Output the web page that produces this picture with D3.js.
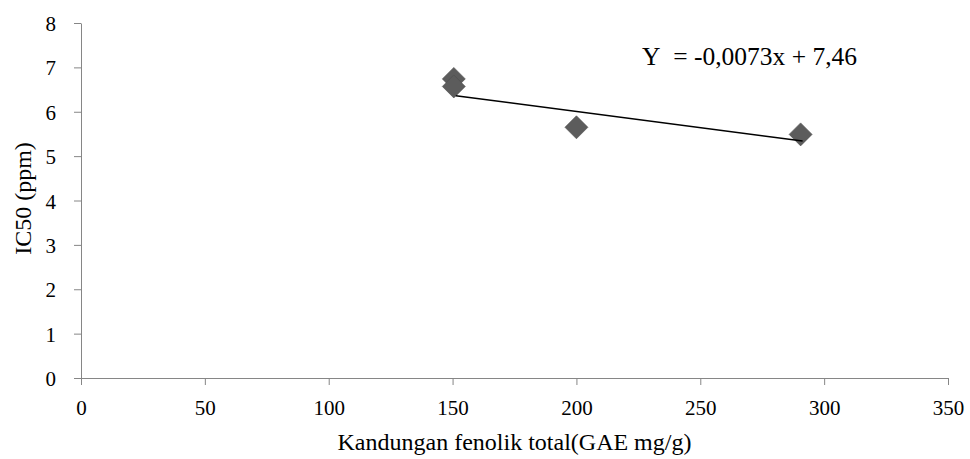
<!DOCTYPE html>
<html>
<head>
<meta charset="utf-8">
<script src="https://cdn.jsdelivr.net/npm/d3@7"></script>
<style>
  body { margin: 0; background: #fff; }
</style>
</head>
<body>
<div id="chart"></div>
<script>
// data points (x = fenolik total, y = IC50)
const xValues = [150.5, 150.5, 200, 290.5];
const yValues = [6.74, 6.57, 5.65, 5.49];

// trendline from the equation shown on the chart
const trendSlope = -0.0073;
const trendIntercept = 7.46;
const trendLabel = 'Y\u00a0 = -0,0073x + 7,46';

const xTicks = [0, 50, 100, 150, 200, 250, 300, 350];
const yTicks = [0, 1, 2, 3, 4, 5, 6, 7, 8];

const width = 970, height = 459;
const margin = { top: 23, right: 22, bottom: 81, left: 81 };
const font = '"Liberation Serif"';

const svg = d3.select('#chart').append('svg')
  .attr('width', width)
  .attr('height', height);

const x = d3.scaleLinear().domain([0, 350]).range([margin.left, width - margin.right]);
const y = d3.scaleLinear().domain([0, 8]).range([height - margin.bottom, margin.top]);

const axisColor = '#868686';

// x axis
const gx = svg.append('g')
  .attr('transform', `translate(0,${y(0)})`)
  .call(d3.axisBottom(x).tickValues(xTicks).tickSize(7).tickSizeOuter(0));
gx.attr('font-family', null).attr('font-size', null);
gx.select('.domain').attr('stroke', axisColor);
gx.selectAll('.tick line').attr('stroke', axisColor);
gx.selectAll('.tick text')
  .attr('y', 37).attr('dy', 0)
  .style('font-family', font).style('font-size', '21px').style('fill', '#000');

// y axis
const gy = svg.append('g')
  .attr('transform', `translate(${x(0)},0)`)
  .call(d3.axisLeft(y).tickValues(yTicks).tickSize(7).tickSizeOuter(0));
gy.attr('font-family', null).attr('font-size', null);
gy.select('.domain').attr('stroke', axisColor);
gy.selectAll('.tick line').attr('stroke', axisColor);
gy.selectAll('.tick text')
  .attr('x', -25).attr('dy', '0.36em')
  .style('font-family', font).style('font-size', '21px').style('fill', '#000');

// axis titles
svg.append('text')
  .attr('x', (x(0) + x(350)) / 2)
  .attr('y', 450)
  .attr('text-anchor', 'middle')
  .style('font-family', font)
  .style('font-size', '24px')
  .text('Kandungan fenolik total(GAE mg/g)');

svg.append('text')
  .attr('transform', `translate(31,${y(4) - 2}) rotate(-90)`)
  .attr('text-anchor', 'middle')
  .style('font-family', font)
  .style('font-size', '24px')
  .text('IC50 (ppm)');

// points
const points = xValues.map((v, i) => ({ x: v, y: yValues[i] }));
const r = 11.5;
svg.selectAll('path.pt')
  .data(points)
  .enter().append('path')
  .attr('class', 'pt')
  .attr('d', d => {
    const cx = x(d.x), cy = y(d.y);
    return `M${cx},${cy - r}L${cx + r},${cy}L${cx},${cy + r}L${cx - r},${cy}Z`;
  })
  .attr('fill', '#5c5c5c')
  .attr('stroke', '#4f4f4f')
  .attr('stroke-width', 0.6);

// trendline over the data range
const [xMin, xMax] = d3.extent(xValues);
svg.append('line')
  .attr('x1', x(xMin) + 2)
  .attr('y1', y(trendSlope * xMin + trendIntercept))
  .attr('x2', x(xMax) + 2)
  .attr('y2', y(trendSlope * xMax + trendIntercept))
  .attr('stroke', '#000')
  .attr('stroke-width', 1.5);

svg.append('text')
  .attr('x', 642)
  .attr('y', 65)
  .style('font-family', font)
  .style('font-size', '25.5px')
  .text(trendLabel);
</script>
</body>
</html>
